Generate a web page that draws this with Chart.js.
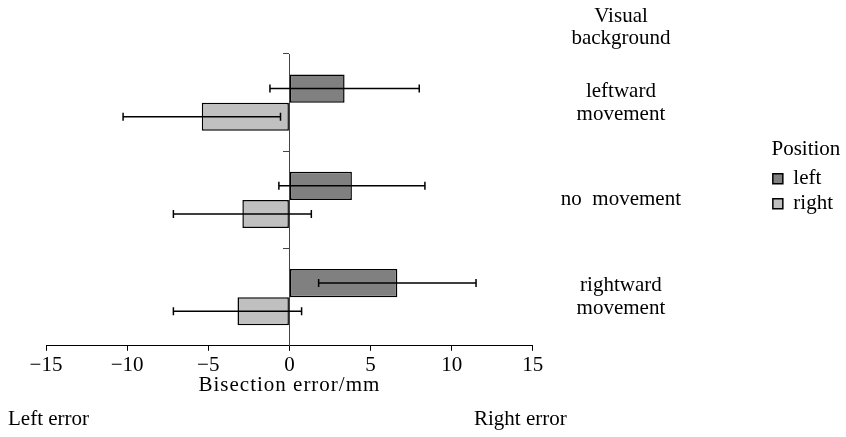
<!DOCTYPE html>
<html lang="en">
<head>
<meta charset="UTF-8">
<title>Bisection error</title>
<style>
  html, body { margin: 0; padding: 0; background: #fff; }
</style>
</head>
<body>
<canvas id="myChart" width="846" height="437"></canvas>

<script src="https://cdn.jsdelivr.net/npm/chart.js"></script>
<script>
  // visual background conditions, top to bottom
  const backgrounds = ['leftward movement', 'no movement', 'rightward movement'];
  const backgroundLabels = [['leftward', 'movement'], ['no  movement'], ['rightward', 'movement']];
  // mean bisection error (mm) for each line position
  const leftMean = [3.4, 3.85, 6.65];
  const rightMean = [-5.4, -2.9, -3.2];
  // half length of the error bars (mm)
  const leftErr = [4.6, 4.5, 4.85];
  const rightErr = [4.85, 4.25, 3.95];
  const xTicks = [-15, -10, -5, 0, 5, 10, 15];

  const serif = 'Liberation Serif';
  Chart.defaults.font.family = serif;
  Chart.defaults.font.size = 21;
  Chart.defaults.color = '#000';

  // error bars drawn on top of the bars
  const errorBars = {
    id: 'errorBars',
    afterDatasetsDraw(chart) {
      const ctx = chart.ctx;
      const x = chart.scales.x;
      const errs = [leftErr, rightErr];
      chart.data.datasets.forEach((ds, d) => {
        chart.getDatasetMeta(d).data.forEach((bar, i) => {
          const lo = x.getPixelForValue(ds.data[i] - errs[d][i]);
          const hi = x.getPixelForValue(ds.data[i] + errs[d][i]);
          ctx.save();
          ctx.strokeStyle = '#000';
          ctx.lineWidth = 1.5;
          ctx.beginPath();
          ctx.moveTo(lo, bar.y); ctx.lineTo(hi, bar.y);
          ctx.moveTo(lo, bar.y - 4); ctx.lineTo(lo, bar.y + 4);
          ctx.moveTo(hi, bar.y - 4); ctx.lineTo(hi, bar.y + 4);
          ctx.stroke();
          ctx.restore();
        });
      });
    }
  };

  // extra texts around the plot
  const extraText = {
    id: 'extraText',
    afterDraw(chart) {
      const ctx = chart.ctx;
      const area = chart.chartArea;
      ctx.save();
      ctx.fillStyle = '#000';
      ctx.font = '21px ' + serif;
      ctx.textBaseline = 'middle';
      ctx.textAlign = 'center';
      ctx.fillText('Visual', 621, 16);
      ctx.fillText('background', 621, 38);
      ctx.letterSpacing = '1px';
      ctx.fillText('Bisection error/mm', (area.left + area.right) / 2, 385);
      ctx.letterSpacing = '0px';
      ctx.textAlign = 'left';
      ctx.fillText('Left error', 8, 419);
      ctx.fillText('Right error', 474, 419);
      ctx.restore();
    }
  };

  const ctx = document.getElementById('myChart').getContext('2d');
  const myChart = new Chart(ctx, {
    type: 'bar',
    data: {
      labels: backgrounds,
      datasets: [{
        label: 'left',
        data: leftMean,
        backgroundColor: '#808080',
        borderColor: '#000',
        borderWidth: 1.5,
        borderSkipped: false
      }, {
        label: 'right',
        data: rightMean,
        backgroundColor: '#c0c0c0',
        borderColor: '#000',
        borderWidth: 1.5,
        borderSkipped: false
      }]
    },
    options: {
      responsive: false,
      animation: false,
      indexAxis: 'y',
      categoryPercentage: 0.58,
      barPercentage: 1,
      layout: { padding: { left: 46, top: 54, right: 3, bottom: 57 } },
      plugins: {
        tooltip: { enabled: false },
        legend: {
          position: 'right',
          align: 'start',
          title: { display: true, text: 'Position', padding: { top: 85, bottom: 0 } },
          labels: { boxWidth: 10, boxHeight: 10, padding: 4 }
        }
      },
      scales: {
        x: {
          min: -15,
          max: 15,
          afterBuildTicks: (scale) => { scale.ticks = xTicks.map(v => ({ value: v })); },
          ticks: {
            padding: 2,
            callback: (v) => String(v).replace('-', '\u2212')
          },
          grid: { drawOnChartArea: false, tickLength: 5, color: '#000' },
          border: { color: '#000', width: 1 }
        },
        y: {
          position: { x: 0 },
          offset: true,
          ticks: { display: false },
          grid: { offset: true, drawOnChartArea: false, tickLength: 6, color: '#444' },
          border: { color: '#444', width: 1 }
        },
        y2: {
          type: 'category',
          axis: 'y',
          position: 'right',
          labels: backgroundLabels,
          offset: true,
          grid: { display: false, drawTicks: false },
          border: { display: false },
          ticks: { padding: 28, crossAlign: 'center', font: { lineHeight: 1.1 } },
          afterFit: (scale) => { scale.width = 236; }
        }
      }
    },
    plugins: [errorBars, extraText]
  });
</script>
</body>
</html>
